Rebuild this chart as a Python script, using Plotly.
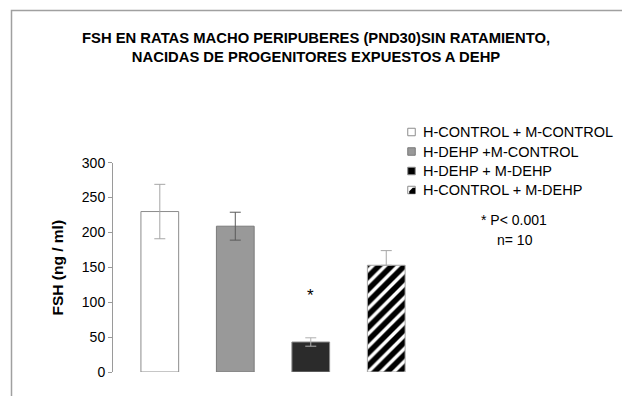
import plotly.graph_objects as go

# FSH levels (ng/ml) in peripubertal male rats (PND30), by parental exposure group
groups = [
    "H-CONTROL + M-CONTROL",
    "H-DEHP +M-CONTROL",
    "H-DEHP + M-DEHP",
    "H-CONTROL + M-DEHP",
]
fsh_mean = [230, 209, 43, 153]
fsh_err = [39, 20, 6, 21]
significant = [False, False, True, False]

y_ticks = [0, 50, 100, 150, 200, 250, 300]

W, H = 622, 396
FONT = "Liberation Sans, Arial, sans-serif"


def px(x):
    return x / W


def py(y):
    return 1 - y / H


fill_colors = ["#ffffff", "#999999", "#2b2b2b", "#ffffff"]
line_colors = ["#8c8c8c", "#7a7a7a", "#8c8c8c", "#a6a6a6"]
err_colors = ["#a6a6a6", "#5a5a5a", "#b0b0b0", "#a6a6a6"]

fig = go.Figure()
for i, name in enumerate(groups):
    marker = dict(color=fill_colors[i], line=dict(color=line_colors[i], width=1))
    err = dict(type="data", array=[fsh_err[i]], color=err_colors[i],
               thickness=1, width=5.5)
    if i == 3:
        marker["pattern"] = dict(shape="/", fgcolor="#000000", bgcolor="#ffffff",
                                 size=9, solidity=0.62, fillmode="replace")
        err.update(symmetric=False, arrayminus=[0])
    fig.add_trace(go.Bar(
        x=[name], y=[fsh_mean[i]], name=name, width=0.5,
        marker=marker, error_y=err, showlegend=False,
    ))

# significance marks above bars
for i, sig in enumerate(significant):
    if sig:
        fig.add_annotation(x=groups[i], y=fsh_mean[i] + fsh_err[i] + 60,
                           text="*", showarrow=False, xref="x", yref="y",
                           font=dict(family=FONT, size=17, color="#000000"),
                           yanchor="middle")

shapes = []
annotations = []

# outer frame
shapes.append(dict(type="rect", xref="paper", yref="paper",
                   x0=px(11.5), x1=px(700), y0=py(10.5), y1=py(500),
                   line=dict(color="#a0a0a0", width=1.5), fillcolor="rgba(0,0,0,0)"))

# legend drawn as small swatches with labels
row_y = [132, 151.5, 171, 190]
sq = 7.5
for i, name in enumerate(groups):
    cx, cy = 411.5, row_y[i]
    x0, x1 = px(cx - sq / 2), px(cx + sq / 2)
    y0, y1 = py(cy + sq / 2), py(cy - sq / 2)
    if i == 3:
        shapes.append(dict(type="rect", xref="paper", yref="paper",
                           x0=x0, x1=x1, y0=y0, y1=y1,
                           line=dict(color="#8c8c8c", width=1), fillcolor="#ffffff"))
        # dark lower-right portion of the striped swatch
        a = cx - sq / 2
        b = cy - sq / 2
        pts = [(a + sq, b + 1.5), (a + sq, b + sq), (a + 1.5, b + sq),
               (a + 1.5, b + sq - 2.5), (a + sq - 2.5, b + 1.5)]
        path = "M " + " L ".join(f"{px(x):.5f},{py(y):.5f}" for x, y in pts) + " Z"
        shapes.append(dict(type="path", xref="paper", yref="paper", path=path,
                           line=dict(width=0), fillcolor="#000000"))
    else:
        shapes.append(dict(type="rect", xref="paper", yref="paper",
                           x0=x0, x1=x1, y0=y0, y1=y1,
                           line=dict(color=line_colors[i], width=1),
                           fillcolor=fill_colors[i] if i != 2 else "#000000"))
    annotations.append(dict(text=name, x=px(421), y=py(cy), xref="paper", yref="paper",
                            xanchor="left", yanchor="middle", showarrow=False,
                            font=dict(family=FONT, size=14.5, color="#000000")))

annotations.append(dict(text="* P< 0.001", x=px(514), y=py(220), xref="paper",
                        yref="paper", xanchor="center", yanchor="middle",
                        showarrow=False, font=dict(family=FONT, size=14, color="#000000")))
annotations.append(dict(text="n= 10", x=px(515), y=py(240), xref="paper",
                        yref="paper", xanchor="center", yanchor="middle",
                        showarrow=False, font=dict(family=FONT, size=14, color="#000000")))

# title
annotations.append(dict(
    text="<b>FSH EN RATAS MACHO PERIPUBERES (PND30)SIN RATAMIENTO,</b><br>"
         "<b>NACIDAS DE PROGENITORES EXPUESTOS A DEHP</b>",
    x=px(316), y=py(47.5), xref="paper", yref="paper", xanchor="center",
    yanchor="middle", showarrow=False, align="center",
    font=dict(family=FONT, size=14.8, color="#000000")))

# y-axis title
annotations.append(dict(
    text="<b>FSH (ng / ml)</b>", x=px(57), y=py(267.5), xref="paper", yref="paper",
    xanchor="center", yanchor="middle", showarrow=False, textangle=-90,
    font=dict(family=FONT, size=15.5, color="#000000")))

for a in annotations:
    fig.add_annotation(**a)

fig.update_layout(
    width=W, height=H,
    margin=dict(l=0, r=0, t=0, b=0, pad=0, autoexpand=False),
    paper_bgcolor="#ffffff", plot_bgcolor="#ffffff",
    barmode="overlay",
    shapes=shapes,
    showlegend=False,
    xaxis=dict(domain=[px(113), px(424)], range=[-0.62, 3.5], type="category",
               showticklabels=False, showline=False, showgrid=False,
               zeroline=False, ticks="", automargin=False),
    yaxis=dict(domain=[py(372), py(162.7)], range=[0, 300], tickvals=y_ticks,
               showline=True, linecolor="#9a9a9a", linewidth=1,
               ticks="outside", ticklen=4, tickcolor="#9a9a9a",
               showgrid=False, zeroline=False, automargin=False,
               tickfont=dict(family=FONT, size=14, color="#000000")),
)

fig.write_html("out.html")
